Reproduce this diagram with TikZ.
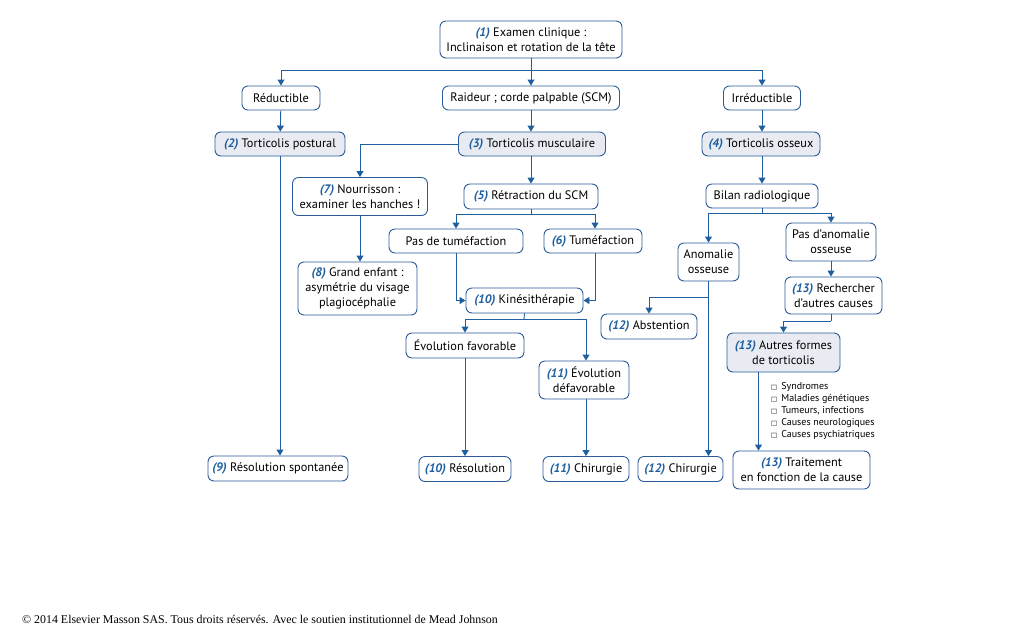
\documentclass[tikz,border=0pt]{standalone}
\usepackage{fontspec}
\setmainfont{PT Sans}
\newfontfamily\serifcopy{Liberation Serif}
\newfontfamily\symb{DejaVu Sans}
\usepackage{tikz}
\usetikzlibrary{arrows.meta}
\definecolor{ligne}{HTML}{1F5FA0}
\definecolor{bord}{HTML}{2B5C9A}
\definecolor{fond}{HTML}{E8ECF2}
\newcommand{\num}[1]{{\color{ligne}\bfseries\itshape #1}}
\newcommand{\carre}{{\symb\fontsize{6.5}{6.5}\selectfont □}\hspace{4pt}}
\tikzset{
	etape/.style={draw=bord, line width=0.9pt, rounded corners=6pt, fill=white, align=center,
		font=\fontsize{12.3}{15}\selectfont, minimum height=24pt, inner sep=2pt},
	type/.style={etape, fill=fond},
	fleche/.style={draw=ligne, line width=0.9pt, -{Triangle[width=7pt,length=6pt]}},
	trait/.style={draw=ligne, line width=0.9pt}
}

\begin{document}
\begin{tikzpicture}[x=1pt, y=-1pt]
			%%%%% START %%%%%
			\useasboundingbox (0,0) rectangle (1029,641);
			
			\node[etape, minimum width=182pt, minimum height=37pt] (exam) at (531,39.5) {\num{(1)} Examen clinique :\\Inclinaison et rotation de la tête};
			
			\node[etape, minimum width=78pt] (reduc) at (281,98) {Réductible};
			\node[etape, minimum width=177pt] (raid) at (531,98) {Raideur ; corde palpable (SCM)};
			\node[etape, minimum width=77pt] (irred) at (762,98) {Irréductible};
			
			\node[type, minimum width=130pt] (post) at (280,144) {\num{(2)} Torticolis postural};
			\node[type, minimum width=147pt] (musc) at (532,144) {\num{(3)} Torticolis musculaire};
			\node[type, minimum width=118pt] (oss) at (761,144) {\num{(4)} Torticolis osseux};
			
			\node[etape, minimum width=135pt, minimum height=38pt] (nour) at (360,196.5) {\num{(7)} Nourrisson :\\examiner les hanches !};
			\node[etape, minimum width=134pt, minimum height=25pt] (retr) at (531,196.5) {\num{(5)} Rétraction du SCM};
			\node[etape, minimum width=112pt] (bilan) at (762,196) {Bilan radiologique};
			
			\node[etape, minimum width=134pt] (pastum) at (456,241) {Pas de tuméfaction};
			\node[etape, minimum width=98pt] (tum) at (593,241) {\num{(6)} Tuméfaction};
			\node[etape, minimum width=61pt, minimum height=38pt] (anom) at (708.5,262) {Anomalie\\osseuse};
			\node[etape, minimum width=90pt, minimum height=38pt] (pasanom) at (831,242) {Pas d’anomalie\\osseuse};
			
			\node[etape, minimum width=119pt, minimum height=53pt] (grand) at (357.5,288.5) {\num{(8)} Grand enfant :\\asymétrie du visage\\plagiocéphalie};
			\node[etape, minimum width=117pt, minimum height=25pt] (kine) at (524.5,300.5) {\num{(10)} Kinésithérapie};
			\node[etape, minimum width=97pt, minimum height=37pt] (rech) at (833.5,295.5) {\num{(13)} Rechercher\\d’autres causes};
			\node[etape, minimum width=96pt, minimum height=25pt] (abst) at (649,326.5) {\num{(12)} Abstention};
			
			\node[etape, minimum width=118pt, minimum height=25pt] (evfav) at (465,345.5) {Évolution favorable};
			\node[etape, minimum width=90pt, minimum height=38pt] (evdef) at (584,380) {\num{(11)} Évolution\\défavorable};
			\node[type, minimum width=113pt, minimum height=39pt] (autres) at (783.5,352.5) {\num{(13)} Autres formes\\de torticolis};
			
			\node[align=left, anchor=north west, inner sep=0pt, font=\fontsize{10}{12}\selectfont] (liste) at (771,382.5) {\carre Syndromes\\\carre Maladies génétiques\\\carre Tumeurs, infections\\\carre Causes neurologiques\\\carre Causes psychiatriques};
			
			\node[etape, minimum width=140pt, minimum height=25pt] (spont) at (278,468.5) {\num{(9)} Résolution spontanée};
			\node[etape, minimum width=92pt, minimum height=25pt] (resol) at (465,469) {\num{(10)} Résolution};
			\node[etape, minimum width=86pt, minimum height=25pt] (chir11) at (586,469) {\num{(11)} Chirurgie};
			\node[etape, minimum width=85pt, minimum height=25pt] (chir12) at (680.5,469) {\num{(12)} Chirurgie};
			\node[etape, minimum width=137pt, minimum height=38pt] (trt) at (801.5,470) {\num{(13)} Traitement\\en fonction de la cause};
			
			%%%%% CONNECTEURS %%%%%
			\coordinate (j1) at (531,70);
			\draw[trait] (exam.south) -- (j1);
			\draw[fleche] (j1) -| (reduc.north);
			\draw[fleche] (j1) -- (raid.north);
			\draw[fleche] (j1) -| (irred.north);
			
			\draw[fleche] (reduc) -- (post);
			\draw[fleche] (raid) -- (raid |- musc.north);
			\draw[fleche] (irred) -- (irred |- oss.north);
			
			\draw[fleche] (post.south) -- (post.south |- spont.north);
			\draw[fleche] (musc.west) -| (nour.north);
			\draw[fleche] (nour.south) -- (nour.south |- grand.north);
			\draw[fleche] (musc.south -| retr.north) -- (retr.north);
			\draw[fleche] (oss.south -| bilan.north) -- (bilan.north);
			
			\coordinate (j5) at (531,214);
			\draw[trait] (retr.south) -- (j5);
			\draw[fleche] (j5) -| (pastum.north);
			\draw[fleche] (j5) -| ([xshift=2pt]tum.north);
			\draw[fleche] (pastum.south) |- (kine.west);
			\draw[fleche] ([xshift=2pt]tum.south) |- (kine.east);
			
			\coordinate (j10) at (524,319);
			\draw[trait] (kine.south) -- (j10);
			\draw[fleche] (j10) -| (evfav.north);
			\draw[fleche] (j10) -| ([xshift=2pt]evdef.north);
			\draw[fleche] (evfav.south) -- (evfav.south |- resol.north);
			\draw[fleche] ([xshift=2pt]evdef.south) -- ([xshift=2pt]evdef.south |- chir11.north);
			
			\coordinate (jb) at (762,213);
			\draw[trait] (bilan.south) -- (jb);
			\draw[fleche] (jb) -| (anom.north);
			\draw[fleche] (jb) -| (pasanom.north);
			\draw[fleche] (anom.south) -- (anom.south |- chir12.north);
			\coordinate (ja) at (708.5,297);
			\draw[fleche] (ja) -| (abst.north);
			
			\draw[fleche] (pasanom.south) -- (pasanom.south |- rech.north);
			\coordinate (jr) at (831,321);
			\draw[trait] (pasanom.south |- rech.south) -- (jr);
			\draw[fleche] (jr) -| (autres.north);
			\draw[fleche] ([xshift=-25pt]autres.south) -- ([xshift=-25pt]autres.south |- trt.north);
			
			\node[anchor=west, inner sep=0pt, font=\serifcopy\fontsize{11.9}{13}\selectfont] (copy) at (22,619) {© 2014 Elsevier Masson SAS. Tous droits réservés. Avec le soutien institutionnel de Mead Johnson};
			%%%%% END %%%%%
\end{tikzpicture}
\end{document}
